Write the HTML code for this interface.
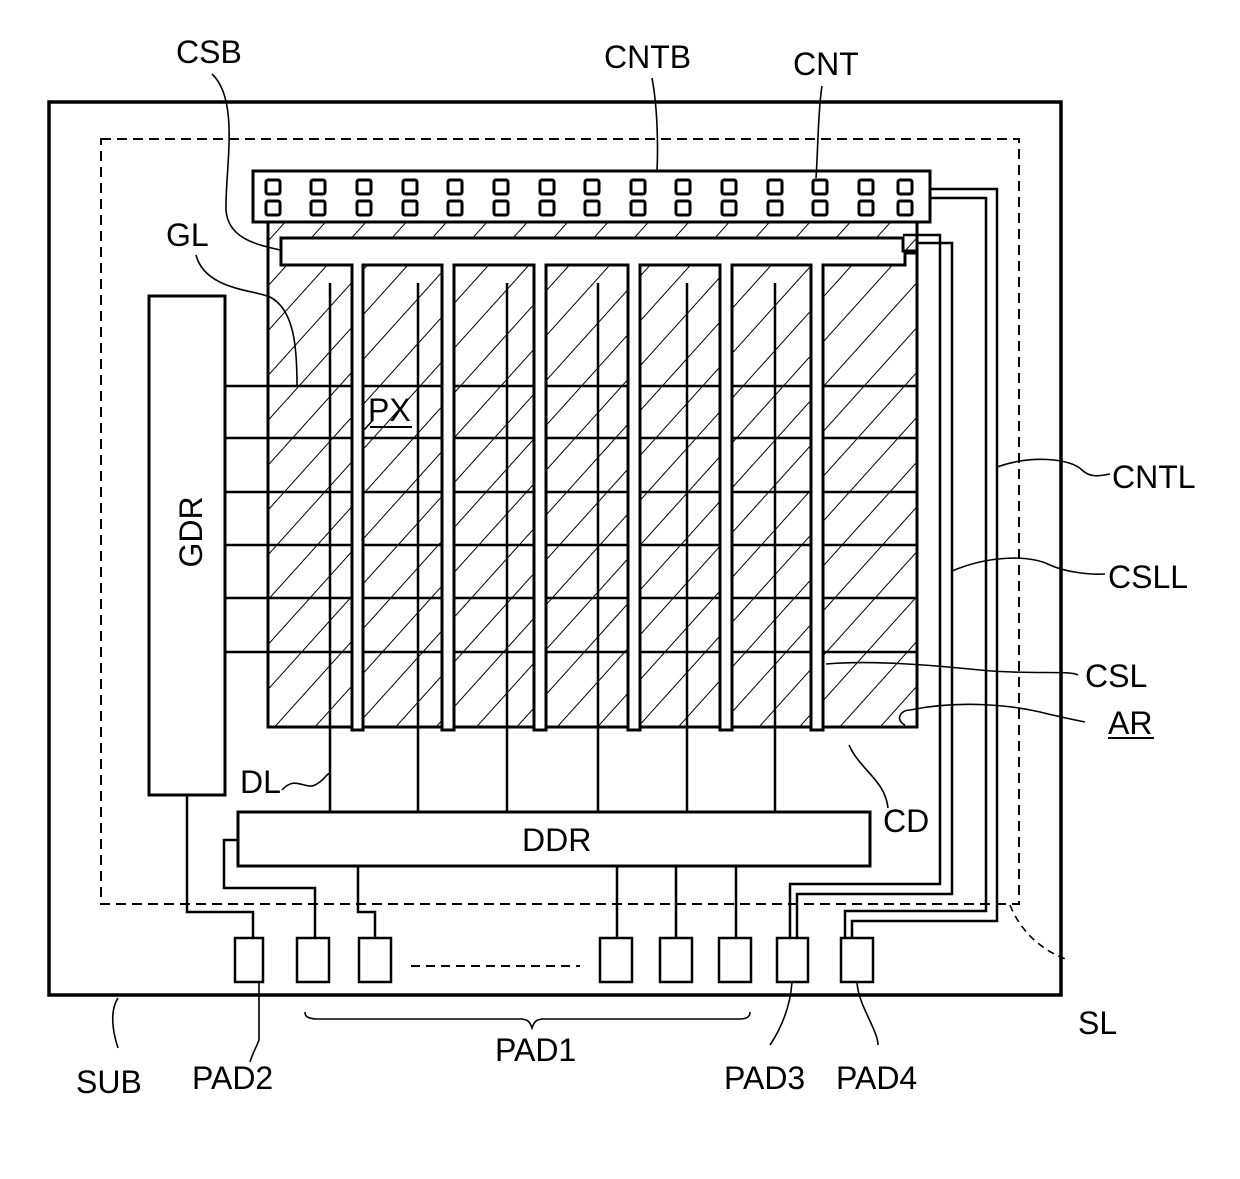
<!DOCTYPE html>
<html><head><meta charset="utf-8"><style>
html,body{margin:0;padding:0;background:#fff;}
svg{display:block;}
text{font-family:"Liberation Sans",sans-serif;font-size:32px;fill:#000;}
</style></head><body>
<svg width="1240" height="1179" viewBox="0 0 1240 1179" xmlns="http://www.w3.org/2000/svg">
<defs>
<pattern id="h" patternUnits="userSpaceOnUse" width="30" height="30" patternTransform="rotate(42)">
<line x1="0" y1="0" x2="0" y2="30" stroke="#000" stroke-width="2"/>
</pattern>
</defs>
<g fill="none" stroke="#000">
<rect x="49" y="102" width="1012" height="893" stroke-width="3.5"/>
<rect x="101" y="139" width="918" height="765" stroke-width="2" stroke-dasharray="10,6"/>
<rect x="268" y="222" width="649" height="505" fill="url(#h)" stroke-width="3"/>
<g stroke-width="2.5">
<line x1="225" y1="386" x2="917" y2="386"/>
<line x1="225" y1="438" x2="917" y2="438"/>
<line x1="225" y1="492" x2="917" y2="492"/>
<line x1="225" y1="545" x2="917" y2="545"/>
<line x1="225" y1="598" x2="917" y2="598"/>
<line x1="225" y1="652" x2="917" y2="652"/>
</g>
<path d="M281,238 H903 V251 H917 V253 H905 V265 H823 V730 H811 V265 H732 V730 H720 V265 H640 V730 H628 V265 H546 V730 H534 V265 H454 V730 H442 V265 H363 V730 H352 V265 H281 Z" fill="#fff" stroke-width="3"/>
<g stroke-width="2.5">
<line x1="330" y1="283" x2="330" y2="812"/>
<line x1="418" y1="283" x2="418" y2="812"/>
<line x1="507" y1="283" x2="507" y2="812"/>
<line x1="598" y1="283" x2="598" y2="812"/>
<line x1="687" y1="283" x2="687" y2="812"/>
<line x1="775" y1="283" x2="775" y2="812"/>
</g>
<rect x="253" y="171" width="677" height="51" fill="#fff" stroke-width="3"/>
<g stroke-width="3">
<rect x="266" y="180" width="14" height="14" rx="2"/><rect x="266" y="201" width="14" height="14" rx="2"/>
<rect x="311" y="180" width="14" height="14" rx="2"/><rect x="311" y="201" width="14" height="14" rx="2"/>
<rect x="357" y="180" width="14" height="14" rx="2"/><rect x="357" y="201" width="14" height="14" rx="2"/>
<rect x="403" y="180" width="14" height="14" rx="2"/><rect x="403" y="201" width="14" height="14" rx="2"/>
<rect x="448" y="180" width="14" height="14" rx="2"/><rect x="448" y="201" width="14" height="14" rx="2"/>
<rect x="494" y="180" width="14" height="14" rx="2"/><rect x="494" y="201" width="14" height="14" rx="2"/>
<rect x="540" y="180" width="14" height="14" rx="2"/><rect x="540" y="201" width="14" height="14" rx="2"/>
<rect x="585" y="180" width="14" height="14" rx="2"/><rect x="585" y="201" width="14" height="14" rx="2"/>
<rect x="631" y="180" width="14" height="14" rx="2"/><rect x="631" y="201" width="14" height="14" rx="2"/>
<rect x="676" y="180" width="14" height="14" rx="2"/><rect x="676" y="201" width="14" height="14" rx="2"/>
<rect x="722" y="180" width="14" height="14" rx="2"/><rect x="722" y="201" width="14" height="14" rx="2"/>
<rect x="768" y="180" width="14" height="14" rx="2"/><rect x="768" y="201" width="14" height="14" rx="2"/>
<rect x="813" y="180" width="14" height="14" rx="2"/><rect x="813" y="201" width="14" height="14" rx="2"/>
<rect x="859" y="180" width="14" height="14" rx="2"/><rect x="859" y="201" width="14" height="14" rx="2"/>
<rect x="898" y="180" width="14" height="14" rx="2"/><rect x="898" y="201" width="14" height="14" rx="2"/>
</g>
<rect x="149" y="296" width="76" height="499" fill="#fff" stroke-width="3"/>
<rect x="238" y="812" width="632" height="54" fill="#fff" stroke-width="3"/>
<g stroke-width="2.5" fill="#fff">
<rect x="235" y="938" width="28" height="44"/>
<rect x="297" y="938" width="32" height="44"/>
<rect x="359" y="938" width="32" height="44"/>
<rect x="600" y="938" width="32" height="44"/>
<rect x="660" y="938" width="32" height="44"/>
<rect x="719" y="938" width="32" height="44"/>
<rect x="777" y="938" width="31" height="44"/>
<rect x="841" y="938" width="32" height="44"/>
</g>
<line x1="411" y1="966" x2="580" y2="966" stroke-width="2" stroke-dasharray="9,6"/>
<g stroke-width="2.5">
<path d="M187,795 V912 H253 V938"/>
<path d="M238,840 H224 V888 H315 V938"/>
<path d="M358,866 V912 H375 V938"/>
<path d="M617,866 V938"/><path d="M676,866 V938"/><path d="M736,866 V938"/>
<path d="M790,938 V884 H940 V235 H903"/>
<path d="M797,938 V894 H952 V243 H917"/>
<path d="M845,938 V911 H986 V198 H930"/>
<path d="M852,938 V921 H997 V189 H930"/>
</g>
<g stroke-width="1.6">
<path d="M212,74 C240,100 225,170 226,210 C228,240 260,245 280,250"/>
<path d="M196,255 C205,290 255,290 270,297 C295,310 297,350 297,386"/>
<path d="M652,78 C658,110 658,150 657,171"/>
<path d="M822,86 C818,110 818,150 816,178"/>
<path d="M997,467 C1030,455 1070,458 1082,470 C1090,478 1100,476 1110,474"/>
<path d="M952,571 C990,555 1030,555 1050,565 C1065,572 1090,575 1105,574"/>
<path d="M826,664 C870,660 930,665 980,670 C1030,675 1070,670 1078,675"/>
<path d="M905,725 C895,720 900,710 910,710 C960,700 1010,705 1040,712 C1060,717 1075,720 1085,722"/>
<path d="M849,745 C860,770 885,780 888,808"/>
<path d="M282,790 C295,775 305,790 315,785 C325,780 325,775 330,773"/>
<path d="M1010,905 C1020,930 1040,950 1068,960" stroke-dasharray="7,5"/>
<path d="M118,998 C110,1010 112,1030 118,1048"/>
<path d="M259,982 V1040 C255,1050 252,1055 250,1062"/>
<path d="M792,982 C790,1010 780,1030 770,1045"/>
<path d="M857,982 C858,1005 878,1030 878,1045"/>
<path d="M305,1012 C305,1018 310,1018 315,1019 H520 C528,1019 530,1022 532,1028 C534,1022 536,1019 544,1019 H740 C745,1019 750,1018 750,1012"/>
<path d="M373,420 L364,430"/>
</g>
<line x1="370" y1="427" x2="412" y2="427" stroke-width="2"/>
<line x1="1108" y1="738" x2="1154" y2="738" stroke-width="2"/>
</g>
<text x="176" y="63">CSB</text>
<text x="604" y="68">CNTB</text>
<text x="793" y="75">CNT</text>
<text x="166" y="246">GL</text>
<text x="368" y="421">PX</text>
<text transform="translate(202,532) rotate(-90)" text-anchor="middle">GDR</text>
<text x="1112" y="488">CNTL</text>
<text x="1108" y="588">CSLL</text>
<text x="1085" y="687">CSL</text>
<text x="1108" y="734">AR</text>
<text x="522" y="851">DDR</text>
<text x="883" y="832">CD</text>
<text x="240" y="793">DL</text>
<text x="76" y="1093">SUB</text>
<text x="192" y="1089">PAD2</text>
<text x="495" y="1061">PAD1</text>
<text x="724" y="1089">PAD3</text>
<text x="836" y="1089">PAD4</text>
<text x="1078" y="1034">SL</text>
</svg>
</body></html>
